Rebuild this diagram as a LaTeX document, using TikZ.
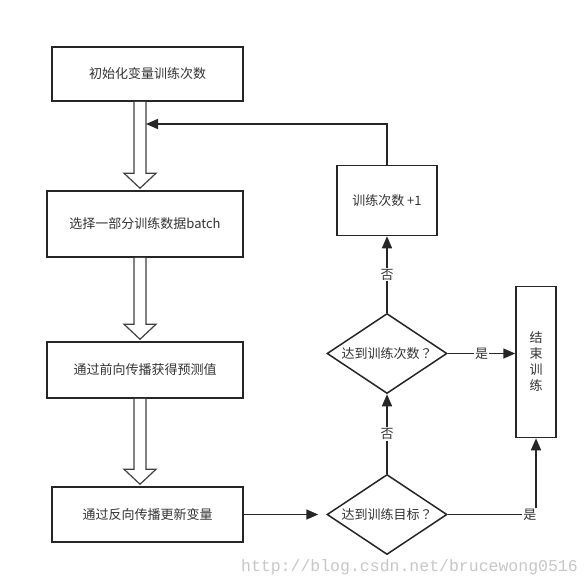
\documentclass[tikz,border=0pt]{standalone}
\usepackage{fontspec}
\setmainfont{Noto Sans CJK SC}
\newfontfamily\markfont{Liberation Mono}
\newfontfamily\punctfont{Noto Sans CJK TC}
\usepackage{tikz}
\usetikzlibrary{positioning, arrows.meta, shapes.geometric, calc}

% hollow arrow between two stacked blocks
\newcommand{\hollowarrow}[2]{%
  \draw[fatline] let \p1=(#1.south), \p2=(#2.north) in
    (134pt,\y1) -- (134pt,\y2+17pt) -- (124pt,\y2+17pt) -- (140pt,\y2+2pt)
    -- (156pt,\y2+17pt) -- (146pt,\y2+17pt) -- (146pt,\y1);}
\newcommand{\askmark}{{\punctfont ？}}

\begin{document}
\begin{tikzpicture}[
      node distance=1cm,
      >={Triangle[length=12pt,width=10pt]},
      procblock/.style={
        rectangle, draw=black!85, line width=1.5pt, text centered, align=center,
        font=\fontsize{13pt}{16pt}\selectfont, text=black!80,
      },
      decision/.style={
        diamond, aspect=1.5, draw=black!85, line width=1.5pt, inner sep=0pt,
        minimum width=120pt, minimum height=80pt,
        font=\fontsize{13pt}{16pt}\selectfont, text=black!80,
      },
      flow/.style={->, draw=black!85, line width=1.5pt},
      fatline/.style={draw=black!75, line width=1.2pt, fill=white},
      tag/.style={fill=white, inner sep=1pt, text=black!80,
        font=\fontsize{13pt}{16pt}\selectfont},
    ]
      \useasboundingbox (0,0) rectangle (588pt,-586pt);

      % main column
      \node[procblock, minimum width=191pt, minimum height=54pt] (init) at (147.5pt,-74pt) {初始化变量训练次数};
      \node[procblock, minimum width=196pt, minimum height=66pt, below=88.5pt of init, xshift=-2.5pt] (batch) {选择一部分训练数据batch};
      \node[procblock, minimum width=196pt, minimum height=56pt, below=83.5pt of batch] (fwd) {通过前向传播获得预测值};
      \node[procblock, minimum width=191pt, minimum height=55pt, below=87.5pt of fwd, xshift=2.5pt] (bwd) {通过反向传播更新变量};

      % checks
      \node[decision, right=82.5pt of bwd] (goal) {达到训练目标\askmark};
      \node[decision, above=79.5pt of goal] (count) {达到训练次数\askmark};
      \node[procblock, minimum width=100pt, minimum height=70pt, above=76.5pt of count] (inc) {训练次数 +1};
      \node[procblock, text width=20pt, minimum width=40pt, minimum height=151pt, inner sep=0pt, right=67.5pt of count, yshift=-8.5pt] (stop) {结\\束\\训\\练};
      \coordinate (rejoin) at (146pt,-124pt);

      % Draw arrows
      \hollowarrow{init}{batch}
      \hollowarrow{batch}{fwd}
      \hollowarrow{fwd}{bwd}
      \draw[flow, shorten >=8pt] (bwd) -- (bwd -| goal.west);
      \draw[flow] (goal.north) -- node[tag] {否} (count.south);
      \draw[flow] (count.north) -- node[tag] {否} (inc.south);
      \draw[flow] (count.east) -- node[tag] {是} (count.east -| stop.west);
      \draw[flow] (goal.east) -| node[tag, pos=0.465] {是} (stop.south);
      \draw[flow] (inc.north) |- (rejoin);

      % watermark
      \node[anchor=east, inner sep=0pt, text=black!22, font=\markfont\fontsize{16.5pt}{18pt}\selectfont] (mark) at (578pt,-567pt) {http://blog.csdn.net/brucewong0516};
\end{tikzpicture}
\end{document}
